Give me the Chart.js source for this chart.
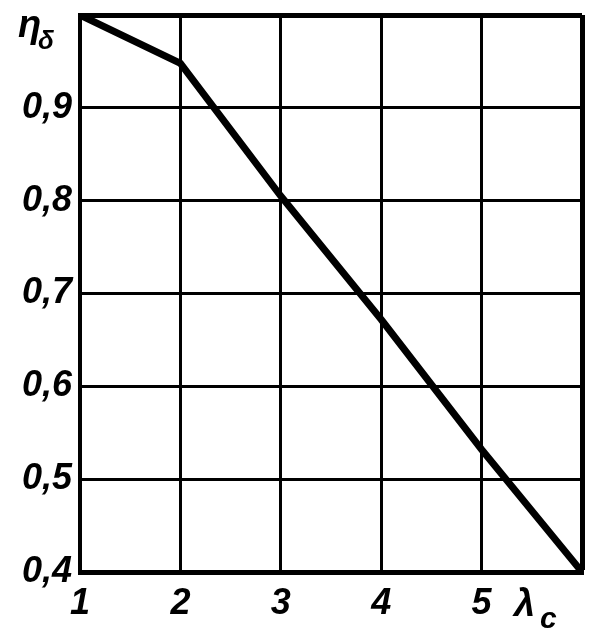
<!DOCTYPE html>
<html>
<head>
<meta charset="utf-8">
<script src="https://cdn.jsdelivr.net/npm/chart.js@4/dist/chart.umd.min.js"></script>
<style>
  html, body { margin: 0; padding: 0; background: #fff; }
  #wrap { width: 596px; height: 638px; }
</style>
</head>
<body>
<div id="wrap"><canvas id="etaChart"></canvas></div>
<script>
// values
const lambdaValues = [1, 2, 3, 4, 5, 6]
const etaValues = [1.0, 0.948, 0.805, 0.672, 0.532, 0.4]

const xTicks = [1, 2, 3, 4, 5, 6]
const yTicks = [0.4, 0.5, 0.6, 0.7, 0.8, 0.9, 1.0]

// axis names, drawn in place of the last tick with a subscript
const yName = ['η', 'δ']
const xName = ['λ', 'c']

const FONT = 'Liberation Sans'

const points = lambdaValues.map((x, i) => ({ x: x, y: etaValues[i] }))

// draws the two axis names (letter + subscript)
const axisNames = {
  id: 'axisNames',
  afterDraw(chart) {
    const ctx = chart.ctx
    const xs = chart.scales.x
    const ys = chart.scales.y
    ctx.save()
    ctx.fillStyle = '#000'
    ctx.textBaseline = 'alphabetic'

    // y name at top-left, level with the 1.0 line
    const yTop = ys.getPixelForValue(yTicks[yTicks.length - 1])
    ctx.font = 'italic bold 38px "' + FONT + '"'
    ctx.fillText(yName[0], 18, yTop + 22)
    ctx.font = 'italic bold 26px "' + FONT + '"'
    ctx.fillText(yName[1], 38, yTop + 34)

    // x name under the right end
    const xEnd = xs.getPixelForValue(xTicks[xTicks.length - 1])
    ctx.font = 'italic bold 38px "' + FONT + '"'
    ctx.fillText(xName[0], xEnd - 68, ys.bottom + 44)
    ctx.font = 'italic bold 30px "' + FONT + '"'
    ctx.fillText(xName[1], xEnd - 42, ys.bottom + 56)
    ctx.restore()
  }
}

// drop the half-label space chart.js keeps at the axis ends
function noEndPadding(scale) {
  scale.paddingTop = 0
  scale.paddingBottom = 0
  scale.paddingLeft = 0
  scale.paddingRight = 0
}

const config = {
  type: 'line',
  data: {
    datasets: [
      {
        label: 'eta',
        data: points,
        borderColor: '#000',
        borderWidth: 7,
        pointRadius: 0,
        tension: 0
      }
    ]
  },
  options: {
    responsive: false,
    animation: false,
    layout: {
      padding: { top: 15, right: 14, left: 0, bottom: 0 }
    },
    plugins: {
      legend: { display: false },
      tooltip: { enabled: false }
    },
    scales: {
      x: {
        type: 'linear',
        min: xTicks[0],
        max: xTicks[xTicks.length - 1],
        afterBuildTicks: (scale) => {
          scale.ticks = xTicks.map(v => ({ value: v }))
        },
        afterFit: (scale) => {
          scale.height = 66
          noEndPadding(scale)
        },
        border: { color: '#000', width: 5 },
        grid: {
          color: '#000',
          lineWidth: (c) => c.tick && c.tick.value === xTicks[xTicks.length - 1] ? 5 : 3,
          drawTicks: false
        },
        ticks: {
          color: '#000',
          padding: 10,
          font: { family: FONT, size: 36, style: 'italic', weight: 'bold' },
          callback: (v) => v === xTicks[xTicks.length - 1] ? '' : String(v)
        }
      },
      y: {
        type: 'linear',
        min: yTicks[0],
        max: yTicks[yTicks.length - 1],
        afterBuildTicks: (scale) => {
          scale.ticks = yTicks.map(v => ({ value: v }))
        },
        afterFit: (scale) => {
          scale.width = 80
          noEndPadding(scale)
        },
        border: { color: '#000', width: 4 },
        grid: {
          color: '#000',
          lineWidth: (c) => c.tick && c.tick.value === yTicks[yTicks.length - 1] ? 5 : 3,
          drawTicks: false
        },
        ticks: {
          color: '#000',
          padding: 8,
          font: { family: FONT, size: 36, style: 'italic', weight: 'bold' },
          callback: (v) => {
            if (v === yTicks[yTicks.length - 1]) return ''
            return (Math.round(v * 10) / 10).toFixed(1).replace('.', ',')
          }
        }
      }
    }
  },
  plugins: [axisNames]
}

const canvas = document.getElementById('etaChart')
canvas.width = 596
canvas.height = 638
new Chart(canvas, config)
</script>
</body>
</html>
